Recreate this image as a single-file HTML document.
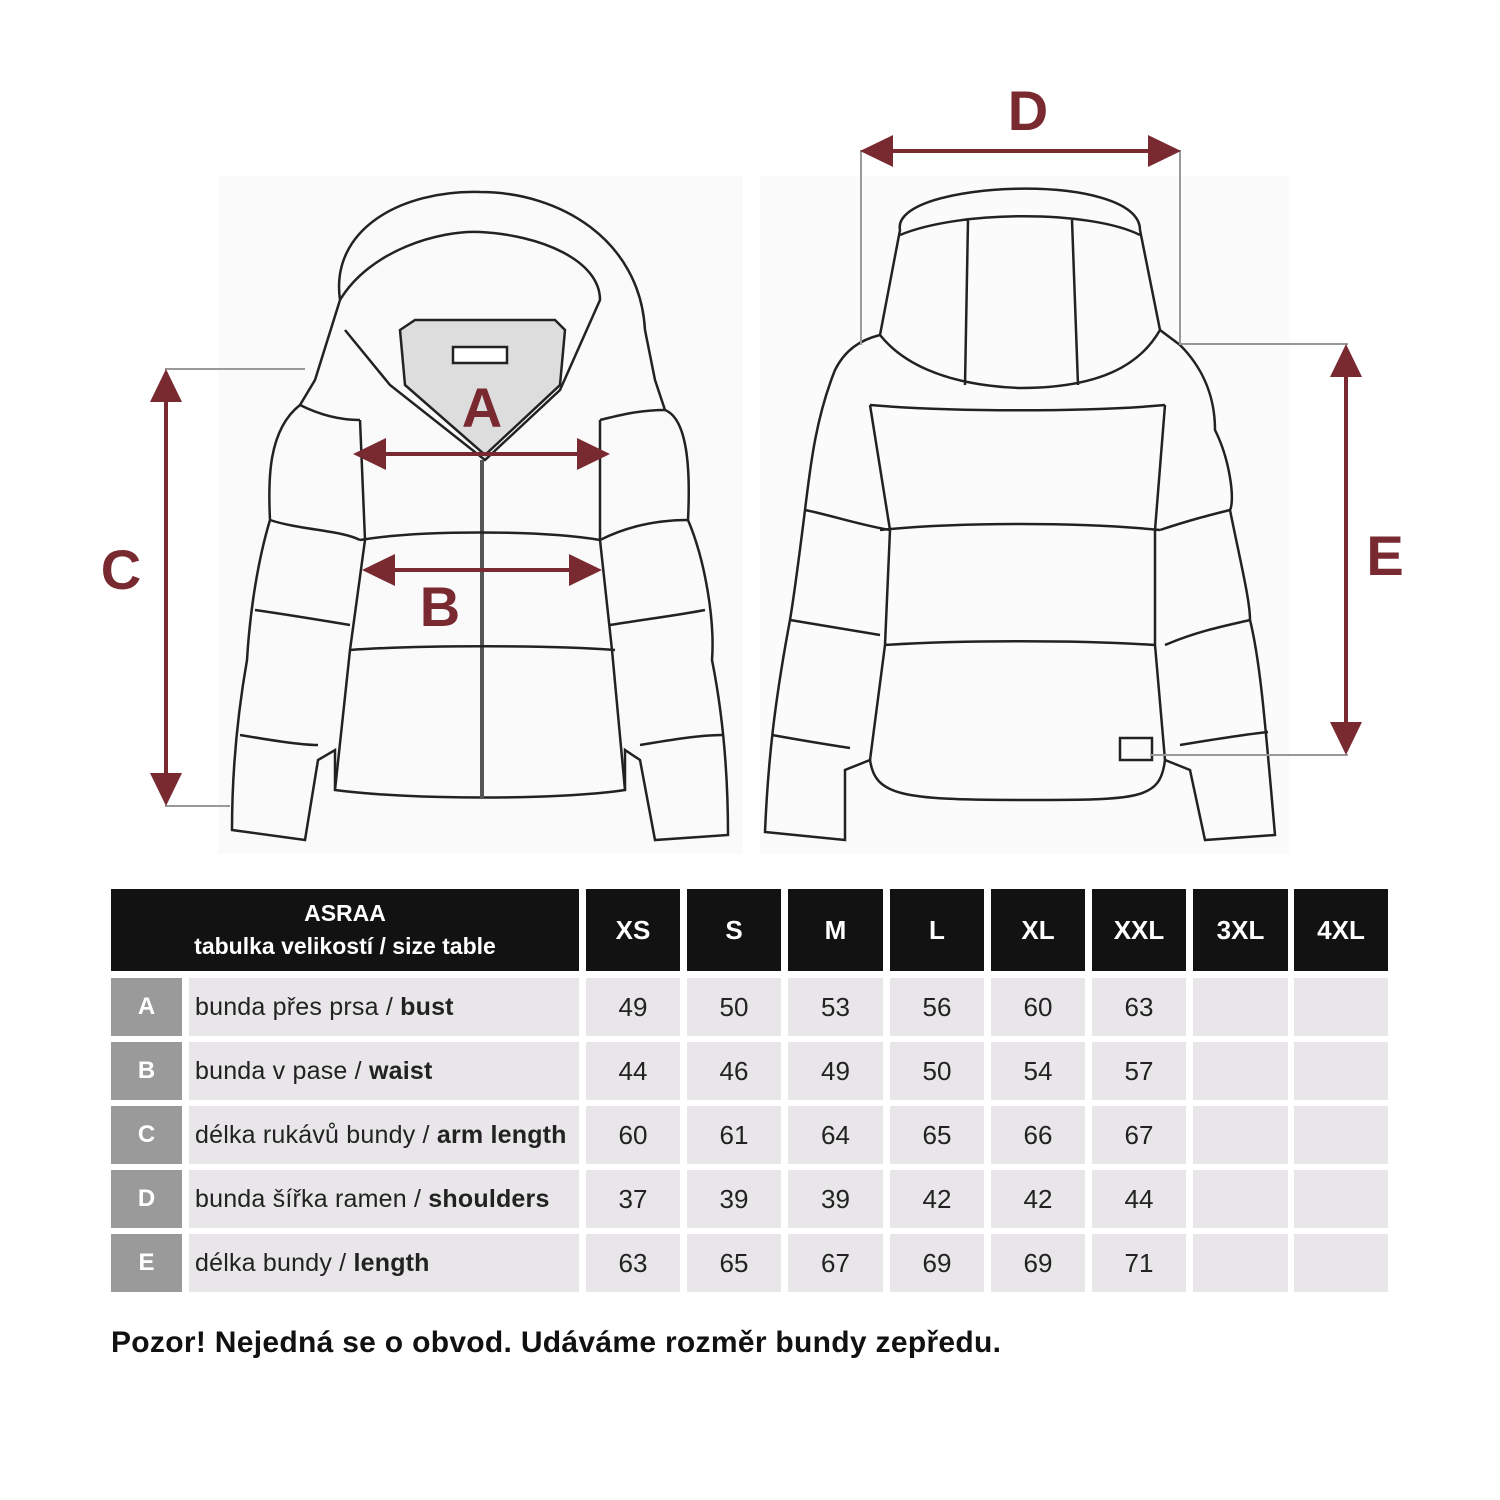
<!DOCTYPE html>
<html><head><meta charset="utf-8"><style>
body{margin:0;width:1500px;height:1500px;background:#fff;position:relative;font-family:"Liberation Sans","DejaVu Sans",sans-serif;overflow:hidden}
.c{position:absolute;display:flex;align-items:center;justify-content:center;box-sizing:border-box}
.h{background:#121212;color:#fff;font-weight:bold;font-size:26px}
.g{background:#e8e6e8;color:#222;font-size:26px}
.l{background:#9a9a9a;color:#fff;font-weight:bold;font-size:24px}
.t{justify-content:flex-start;padding-left:6px;font-size:25px;letter-spacing:0.2px}
</style></head><body>
<svg width="1500" height="870" style="position:absolute;left:0;top:0" xmlns="http://www.w3.org/2000/svg">
<rect x="218" y="176" width="525" height="678" fill="#fafafa"/>
<rect x="760" y="176" width="530" height="678" fill="#fbfbfb"/>
<g fill="none" stroke="#222" stroke-width="2.5">
<path d="M340 300 C330 230 400 190 480 192 C560 192 640 240 645 330 L655 380 L665 410 C690 420 690 480 688 520 C705 560 715 620 712 660 C720 700 728 760 728 835 L655 840 L640 760 L625 750 L625 790 C560 800 410 800 335 790 L335 750 L318 760 L305 840 L232 830 C232 760 240 700 247 660 C250 610 258 560 270 520 C268 480 268 430 300 405 L315 380 Z"/>
<path d="M340 300 C370 250 440 230 480 232 C540 235 600 260 600 300 L560 390 L485 460 L390 385 L345 330"/>
<path d="M400 330 L415 320 L555 320 L565 330 L560 385 L485 455 L405 385 Z" fill="#ddd"/>
<rect x="453" y="347" width="54" height="16" fill="#fff"/>
<path d="M482 460 L482 798" stroke-width="4" stroke="#555"/>
<path d="M300 405 C320 415 340 420 360 420 M600 420 C620 415 640 410 665 410 M270 520 C300 530 340 530 360 540 M600 540 C630 525 660 520 688 520 M255 610 C290 615 320 620 350 625 M610 625 C640 620 680 615 705 610 M240 735 C270 740 300 745 318 745 M640 745 C670 740 700 735 722 735 M360 540 C420 530 540 530 600 540 M350 650 C420 645 550 645 615 650 M360 420 L365 540 L350 650 L335 790 M600 420 L600 540 L612 650 L625 790"/>
<path d="M900 230 C890 180 1140 170 1140 230 L1160 330 L1180 345 C1205 370 1215 400 1215 430 C1230 460 1235 500 1230 510 C1240 560 1250 600 1250 620 C1260 660 1265 720 1275 835 L1205 840 L1190 770 L1165 760 C1160 800 1140 800 1020 800 C900 800 875 795 870 760 L845 770 L845 840 L765 832 C768 760 775 700 790 620 C795 590 800 550 805 510 C810 470 815 420 835 370 C845 350 860 340 880 335 Z"/>
<path d="M900 235 C960 210 1090 210 1140 235 M880 335 C900 360 940 385 1020 388 C1100 388 1140 365 1160 330 M968 220 L965 385 M1072 220 L1078 385 M870 405 C950 412 1090 412 1165 405 M880 530 C960 522 1080 522 1160 530 M885 645 C960 640 1080 640 1155 645 M870 405 L890 530 L885 645 L870 760 M1165 405 L1155 530 L1155 645 L1165 760 M805 510 C830 515 860 525 890 530 M790 620 C820 625 850 630 880 635 M772 735 C800 740 830 745 850 748 M1160 530 C1190 520 1210 515 1230 510 M1165 645 C1200 630 1230 625 1250 620 M1180 745 C1210 740 1240 735 1268 732"/>
<rect x="1120" y="738" width="32" height="22" />
</g>
<g stroke="#999" stroke-width="2" fill="none">
<path d="M165 369 L305 369 M165 806 L230 806 M861 150 L861 345 M1180 150 L1180 345 M1180 344 L1348 344 M1150 755 L1348 755"/>
</g>
<g fill="#792a31" stroke="#792a31">
<line x1="166" y1="395" x2="166" y2="780" stroke-width="4"/>
<polygon points="166,369 150,402 182,402" stroke="none"/><polygon points="166,806 150,773 182,773" stroke="none"/>
<line x1="1346" y1="370" x2="1346" y2="730" stroke-width="4"/>
<polygon points="1346,344 1330,377 1362,377" stroke="none"/><polygon points="1346,755 1330,722 1362,722" stroke="none"/>
<line x1="890" y1="151" x2="1150" y2="151" stroke-width="4"/>
<polygon points="860,151 893,135 893,167" stroke="none"/><polygon points="1181,151 1148,135 1148,167" stroke="none"/>
<line x1="380" y1="454" x2="580" y2="454" stroke-width="4"/>
<polygon points="353,454 386,438 386,470" stroke="none"/><polygon points="610,454 577,438 577,470" stroke="none"/>
<line x1="390" y1="570" x2="575" y2="570" stroke-width="4"/>
<polygon points="362,570 395,554 395,586" stroke="none"/><polygon points="602,570 569,554 569,586" stroke="none"/>
</g>
<g fill="#792a31" font-family="Liberation Sans" font-weight="bold" font-size="56" text-anchor="middle">
<text x="482" y="427">A</text><text x="440" y="626">B</text><text x="121" y="589">C</text><text x="1028" y="130">D</text><text x="1385" y="575">E</text>
</g>
</svg>

<div class="c h" style="left:111px;top:889px;width:468px;height:82px;text-align:center;font-size:23px;line-height:33px"><div>ASRAA<br>tabulka velikostí / size table</div></div>
<div class="c h" style="left:586px;top:889px;width:94px;height:82px">XS</div>
<div class="c h" style="left:687px;top:889px;width:94px;height:82px">S</div>
<div class="c h" style="left:788px;top:889px;width:95px;height:82px">M</div>
<div class="c h" style="left:890px;top:889px;width:94px;height:82px">L</div>
<div class="c h" style="left:991px;top:889px;width:94px;height:82px">XL</div>
<div class="c h" style="left:1092px;top:889px;width:94px;height:82px">XXL</div>
<div class="c h" style="left:1193px;top:889px;width:95px;height:82px">3XL</div>
<div class="c h" style="left:1294px;top:889px;width:94px;height:82px">4XL</div>

<div class="c l" style="left:111px;top:978px;width:71px;height:58px">A</div>
<div class="c g t" style="left:189px;top:978px;width:390px;height:58px">bunda přes prsa /&nbsp;<b>bust</b></div>
<div class="c l" style="left:111px;top:1042px;width:71px;height:58px">B</div>
<div class="c g t" style="left:189px;top:1042px;width:390px;height:58px">bunda v pase /&nbsp;<b>waist</b></div>
<div class="c l" style="left:111px;top:1106px;width:71px;height:58px">C</div>
<div class="c g t" style="left:189px;top:1106px;width:390px;height:58px">délka rukávů bundy /&nbsp;<b>arm length</b></div>
<div class="c l" style="left:111px;top:1170px;width:71px;height:58px">D</div>
<div class="c g t" style="left:189px;top:1170px;width:390px;height:58px">bunda šířka ramen /&nbsp;<b>shoulders</b></div>
<div class="c l" style="left:111px;top:1234px;width:71px;height:58px">E</div>
<div class="c g t" style="left:189px;top:1234px;width:390px;height:58px">délka bundy /&nbsp;<b>length</b></div>

<div id="vals"></div>
<script>
var xs=[[586,94],[687,94],[788,95],[890,94],[991,94],[1092,94],[1193,95],[1294,94]];
var ys=[978,1042,1106,1170,1234];
var d=[[49,50,53,56,60,63],[44,46,49,50,54,57],[60,61,64,65,66,67],[37,39,39,42,42,44],[63,65,67,69,69,71]];
var h='';
for(var r=0;r<5;r++)for(var c=0;c<8;c++){h+='<div class="c g" style="left:'+xs[c][0]+'px;top:'+ys[r]+'px;width:'+xs[c][1]+'px;height:58px">'+(c<6?d[r][c]:'')+'</div>';}
document.getElementById('vals').innerHTML=h;
</script>
<div style="position:absolute;left:111px;top:1326px;font-size:30px;font-weight:bold;color:#111;letter-spacing:0.3px">Pozor! Nejedná se o obvod. Udáváme rozměr bundy zepředu.</div>
</body></html>
